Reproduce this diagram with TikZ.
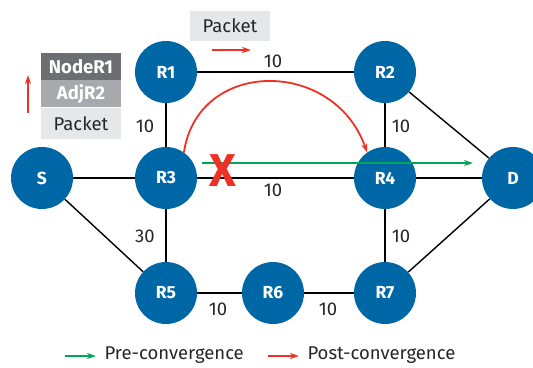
\documentclass[tikz,border=0pt]{standalone}
\usepackage{fontspec}
\setmainfont{Fira Sans}
\usetikzlibrary{arrows.meta}
\definecolor{nodeblue}{HTML}{0067A6}
\definecolor{pathred}{HTML}{EE3124}
\definecolor{pathgreen}{HTML}{00A65A}
\definecolor{hdrdark}{HTML}{6D6E71}
\definecolor{hdrmid}{HTML}{A7A9AC}
\definecolor{hdrlight}{HTML}{E6E7E8}
\tikzset{
  router/.style={circle, fill=nodeblue, minimum size=62pt, inner sep=0pt,
    text=white, font=\fontsize{17.5}{17.5}\selectfont\bfseries},
  link/.style={draw=black, line width=1.4pt},
  txt/.style={font=\fontsize{18.5}{18.5}\selectfont, text=black!85},
  metric/.style={txt},
  hdr/.style={minimum width=80pt, inner sep=0pt, txt},
  flowarrow/.style={line width=2pt, -{Stealth[length=9pt,width=6pt]}},
}
\begin{document}
\begin{tikzpicture}[x=1pt,y=-1pt]
\useasboundingbox (0,0) rectangle (533,367);

% routers
\node[router] (S)  at (42,178)  {S};
\node[router] (R1) at (166,72)  {R1};
\node[router] (R2) at (385,72)  {R2};
\node[router] (R3) at (166,178) {R3};
\node[router] (R4) at (385,178) {R4};
\node[router] (D)  at (513,178) {D};
\node[router] (R5) at (166,293) {R5};
\node[router] (R6) at (273,293) {R6};
\node[router] (R7) at (385,293) {R7};

% links
\draw[link] (R1) -- (R2);
\draw[link] (R1) -- (R3);
\draw[link] (S) -- (R3);
\draw[link] (R3) -- (R4);
\draw[link] (R4) -- (D);
\draw[link] (R2) -- (D);
\draw[link] (R2) -- (R4);
\draw[link] (S) -- (R5);
\draw[link] (R3) -- (R5);
\draw[link] (R4) -- (R7);
\draw[link] (R7) -- (D);
\draw[link] (R5) -- (R6);
\draw[link] (R6) -- (R7);

% link metrics
\node[metric] (m12) at (273,61)  {10};
\node[metric] (m13) at (145,126) {10};
\node[metric] (m34) at (273,190) {10};
\node[metric] (m24) at (401,126) {10};
\node[metric] (m35) at (145,236) {30};
\node[metric] (m47) at (401,236) {10};
\node[metric] (m56) at (218,309) {10};
\node[metric] (m67) at (328,309) {10};

% pre-convergence path
\coordinate (g0) at (202,163);
\coordinate (g1) at (473,163);
\draw[flowarrow, pathgreen] (g0) -- (g1);

% failed link marker
\node[text=pathred, font=\fontsize{46}{46}\selectfont\bfseries, inner sep=0pt] (fail) at (223,171) {X};

% post-convergence repair path
\draw[flowarrow, pathred, line width=1.8pt] (R3.55) .. controls (198,58) and (334,58) .. (R4.125);

% packet above R1-R2
\node[hdr, fill=hdrlight, minimum height=30pt] (pkt) at (230,26) {Packet};
\coordinate (p0) at (212,50);
\coordinate (p1) at (251,50);
\draw[flowarrow, pathred] (p0) -- (p1);

% encapsulated packet
\node[hdr, fill=hdrdark, text=white, minimum height=27pt, font=\fontsize{18.5}{18.5}\selectfont\bfseries] (nr1) at (81,66.5) {NodeR1};
\node[hdr, fill=hdrmid, text=white, minimum height=27pt, font=\fontsize{18.5}{18.5}\selectfont\bfseries, anchor=north] (adj) at (nr1.south) {AdjR2};
\node[hdr, fill=hdrlight, minimum height=31pt, anchor=north] (pk2) at (adj.south) {Packet};
\coordinate (u0) at (28,113);
\coordinate (u1) at (28,75);
\draw[flowarrow, pathred] (u0) -- (u1);

% legend
\coordinate (lg0) at (65,356);
\coordinate (lg1) at (96,356);
\draw[flowarrow, pathgreen] (lg0) -- (lg1);
\node[anchor=west, txt] (lgt1) at (101,355) {Pre-convergence};
\coordinate (lr0) at (268,356);
\coordinate (lr1) at (299,356);
\draw[flowarrow, pathred] (lr0) -- (lr1);
\node[anchor=west, txt] (lgt2) at (304,355) {Post-convergence};
\end{tikzpicture}
\end{document}
